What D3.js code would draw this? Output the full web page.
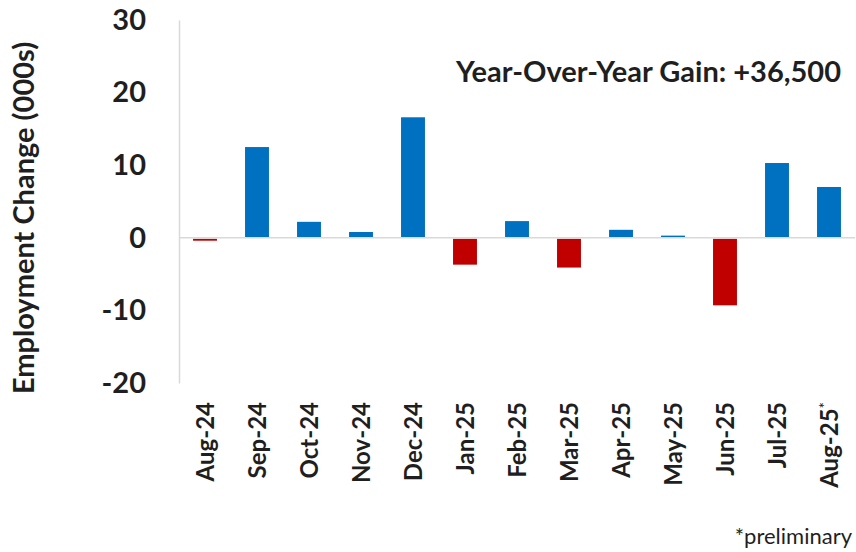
<!DOCTYPE html>
<html>
<head>
<meta charset="utf-8">
<script src="https://cdn.jsdelivr.net/npm/d3@7"></script>
<style>
  body { margin: 0; background: #fff; }
  text { font-family: Lato, "Open Sans", sans-serif; fill: #1f1f1f; }
</style>
</head>
<body>
<div id="app"></div>
<script>
const months = ["Aug-24", "Sep-24", "Oct-24", "Nov-24", "Dec-24", "Jan-25", "Feb-25",
    "Mar-25", "Apr-25", "May-25", "Jun-25", "Jul-25", "Aug-25"];
const changes = [-0.4, 12.5, 2.2, 0.8, 16.6, -3.7, 2.3, -4.1, 1.1, 0.3, -9.3, 10.3, 7.0];
const yTicks = [-20, -10, 0, 10, 20, 30];
const preliminary = ["Aug-25"];

const width = 856;
const height = 552;
const plotLeft = 179;
const plotRight = 855;
const plotTop = 20;
const plotBottom = 383;

const blue = "#0070C0";
const red = "#C00000";

const svg = d3.select("#app")
    .append("svg")
    .attr("width", width)
    .attr("height", height);

const x = d3.scaleBand()
    .domain(months)
    .range([plotLeft, plotRight])
    .paddingInner(0.54)
    .paddingOuter(0.27);

const y = d3.scaleLinear()
    .domain([-20, 30])
    .range([plotBottom, plotTop]);

//BARS
svg.selectAll(".bar")
    .data(months)
    .enter()
    .append("rect")
    .attr("class", "bar")
    .attr("x", function (m) { return x(m); })
    .attr("width", x.bandwidth())
    .attr("y", function (m, i) { return changes[i] >= 0 ? y(changes[i]) : y(0) + 1; })
    .attr("height", function (m, i) { return Math.max(1, Math.abs(y(changes[i]) - y(0)) - (changes[i] < 0 ? 1 : 0)); })
    .style("fill", function (m, i) { return changes[i] >= 0 ? blue : red; });

//ZERO LINE
svg.append("line")
    .attr("x1", plotLeft)
    .attr("x2", plotRight)
    .attr("y1", y(0))
    .attr("y2", y(0))
    .style("stroke", "#d9d9d9")
    .style("stroke-width", 1.5);

//Y AXIS
const yAxis = svg.append("g")
    .attr("transform", "translate(" + plotLeft + ",0)")
    .call(d3.axisLeft(y).tickValues(yTicks).tickSize(0).tickPadding(33)
        .tickFormat(function (d) { return String(d); }));
yAxis.select(".domain")
    .style("stroke", "#d9d9d9")
    .style("stroke-width", 1.5);
yAxis.selectAll("text")
    .style("font-family", "Lato, sans-serif")
    .style("font-size", "29px")
    .style("font-weight", "bold")
    .style("fill", "#1f1f1f");

//X LABELS
const xLabels = svg.append("g")
    .selectAll("text")
    .data(months)
    .enter()
    .append("text")
    .attr("transform", function (m) {
        return "translate(" + (x(m) + x.bandwidth() / 2 + 9) + ",402) rotate(-90)";
    })
    .attr("text-anchor", "end")
    .style("font-size", "24px")
    .style("font-weight", "bold")
    .text(function (m) { return m; });
xLabels.filter(function (m) { return preliminary.indexOf(m) >= 0; })
    .append("tspan")
    .attr("dy", -8)
    .style("font-size", "15px")
    .style("font-weight", "normal")
    .text("*");

//AXIS TITLE
svg.append("text")
    .attr("transform", "translate(34,218) rotate(-90)")
    .attr("text-anchor", "middle")
    .style("font-size", "29px")
    .style("font-weight", "bold")
    .text("Employment Change (000s)");

//ANNOTATION
svg.append("text")
    .attr("x", 841)
    .attr("y", 82)
    .attr("text-anchor", "end")
    .style("font-size", "29px")
    .style("font-weight", "bold")
    .text("Year-Over-Year Gain: +36,500");

svg.append("text")
    .attr("x", 852)
    .attr("y", 544)
    .attr("text-anchor", "end")
    .style("font-size", "22px")
    .text("*preliminary");
</script>
</body>
</html>
